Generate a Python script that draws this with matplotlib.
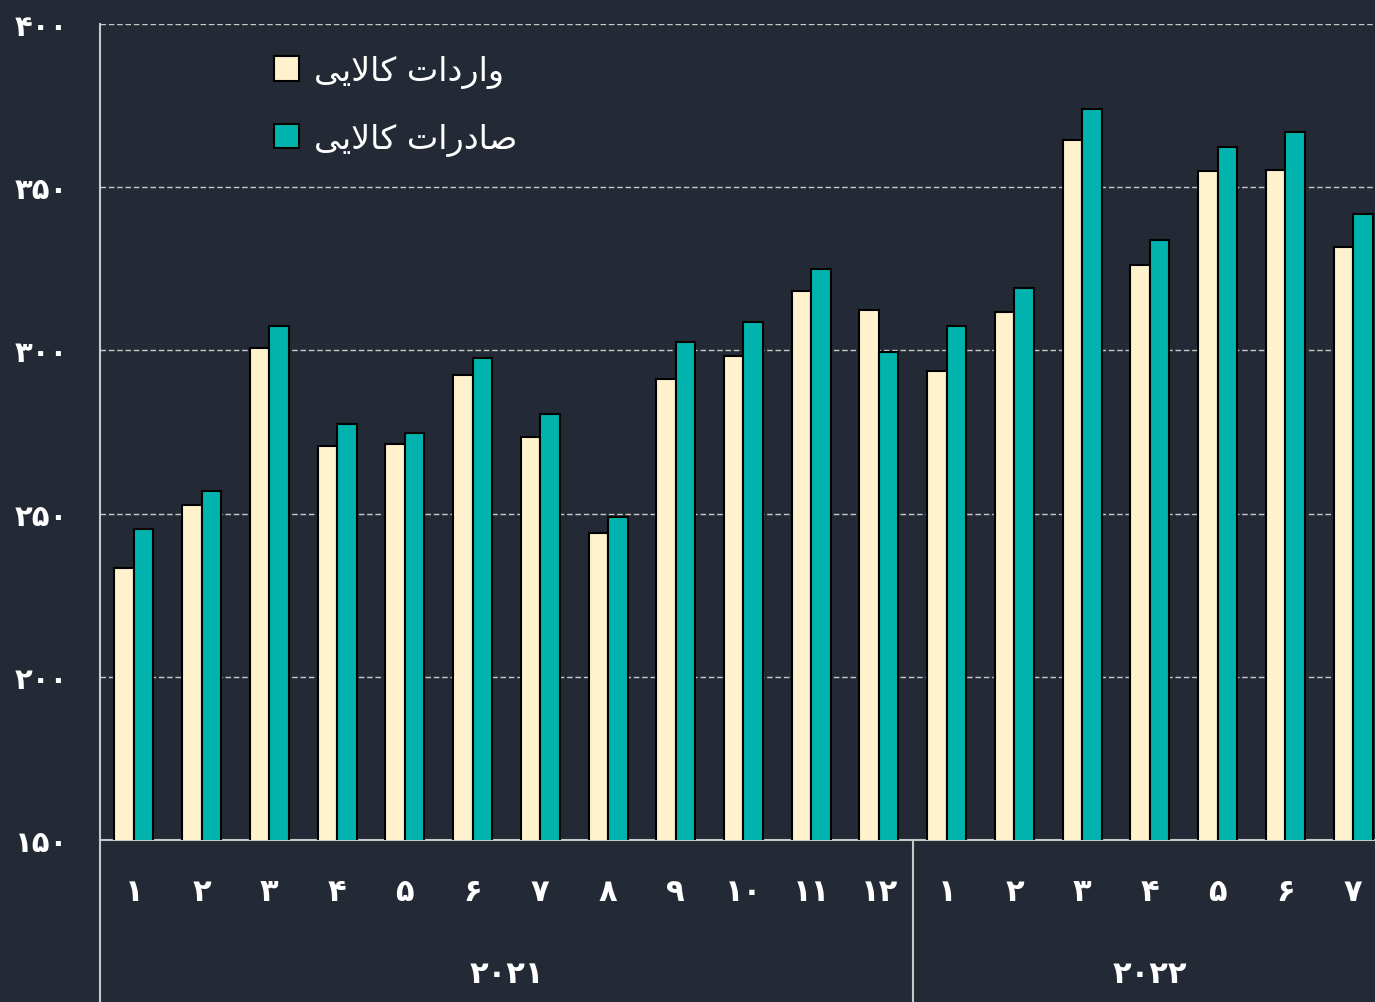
import numpy as np
import matplotlib.pyplot as plt
from matplotlib.patches import Patch
from matplotlib.transforms import blended_transform_factory

# Persian digits
FA = str.maketrans("0123456789", "۰۱۲۳۴۵۶۷۸۹")

years = ["2021", "2022"]
months = [list(range(1, 13)), list(range(1, 8))]

imports = [233.3, 252.6, 300.7, 270.7, 271.3, 292.5, 273.5, 244.1, 291.2, 298.3,
           318.2, 312.4, 293.7, 311.8, 364.5, 326.2, 355.0, 355.3, 331.7]
exports = [245.3, 256.9, 307.5, 277.5, 274.7, 297.7, 280.5, 249.0, 302.6, 308.7,
           324.9, 299.5, 307.5, 319.1, 374.0, 333.8, 362.3, 366.9, 341.8]

y_ticks = [150, 200, 250, 300, 350, 400]

# matplotlib does no Arabic shaping: labels are given in presentation forms, visual order
# "واردات کالایی" and "صادرات کالایی"
label_imports = "\uFBFD\uFBFE\uFEFB\uFE8E\uFB90 \uFE95\uFE8D\uFEA9\uFEAD\uFE8D\uFEED"
label_exports = "\uFBFD\uFBFE\uFEFB\uFE8E\uFB90 \uFE95\uFE8D\uFEAD\uFEA9\uFE8E\uFEBB"

BG = "#232a35"
CREAM = "#fff2cc"
TEAL = "#00b3ad"
LINE = "#c8c8c8"

plt.rcParams["font.family"] = ["DejaVu Sans"]

fig = plt.figure(figsize=(13.75, 10.03), dpi=100, facecolor=BG)
ax = fig.add_axes([100 / 1375, 1 - 841 / 1003, 1287 / 1375, 816 / 1003])
ax.set_facecolor(BG)

x = np.arange(len(imports))
w = 0.288
ax.bar(x - w, imports, w, align="edge", color=CREAM, edgecolor="black", linewidth=1.5, zorder=3)
ax.bar(x, exports, w, align="edge", color=TEAL, edgecolor="black", linewidth=1.5, zorder=3)

ax.set_xlim(-0.5, len(x) - 0.5)
ax.set_ylim(150, 400)
ax.set_yticks(y_ticks)
ax.set_yticklabels([str(v).translate(FA) for v in y_ticks], fontsize=21,
                   fontweight="bold", color="white")
ax.tick_params(axis="y", length=0, pad=23)
ax.set_xticks([])
ax.yaxis.grid(True, color=LINE, linestyle=(0, (4, 2)), linewidth=1, zorder=0)

for s in ["top", "right"]:
    ax.spines[s].set_visible(False)
for s in ["left", "bottom"]:
    ax.spines[s].set_color(LINE)
    ax.spines[s].set_linewidth(1.5)

# two-level category axis below the plot
tr = blended_transform_factory(ax.transData, ax.transAxes)
pos = 0
for year, ms in zip(years, months):
    for m in ms:
        ax.text(pos, -0.063, str(m).translate(FA), transform=tr, ha="center", va="center",
                fontsize=22, fontweight="bold", color="white")
        pos += 1
    mid = pos - 1 - (len(ms) - 1) / 2
    ax.text(mid, -0.163, year.translate(FA), transform=tr, ha="center", va="center",
            fontsize=22, fontweight="bold", color="white")
    ax.plot([pos - 0.5, pos - 0.5], [0, -0.25], transform=tr, color=LINE,
            linewidth=1.5, clip_on=False)
ax.plot([-0.5, -0.5], [0, -0.25], transform=tr, color=LINE, linewidth=1.5, clip_on=False)

handles = [Patch(facecolor=CREAM, edgecolor="black", linewidth=1.5),
           Patch(facecolor=TEAL, edgecolor="black", linewidth=1.5)]
ax.legend(handles, [label_imports, label_exports], loc="upper left",
          bbox_to_anchor=(0.135, 0.963), frameon=False, fontsize=24,
          labelcolor="white", handlelength=0.75, handleheight=0.75,
          handletextpad=0.45, labelspacing=1.0, borderpad=0, borderaxespad=0)

fig.savefig("out.png", dpi=100, facecolor=BG)
